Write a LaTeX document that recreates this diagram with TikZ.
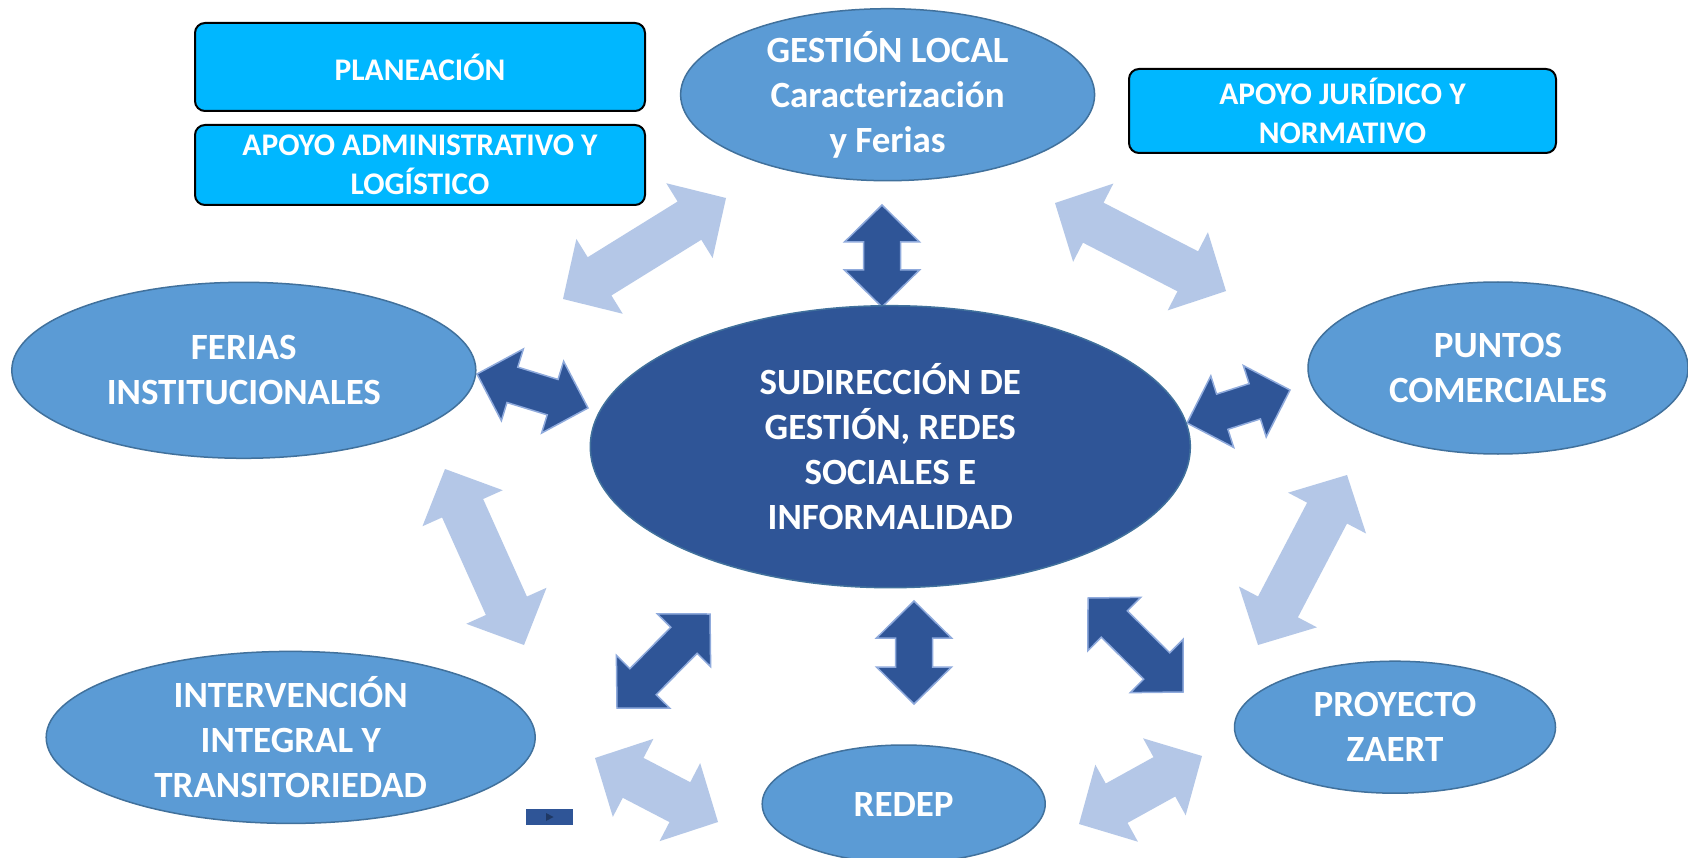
\documentclass[tikz,border=0pt]{standalone}
\usepackage{fontspec}
\setmainfont{Carlito}
\usetikzlibrary{shapes.geometric,calc}
\definecolor{boxcyan}{HTML}{00B7FF}
\definecolor{ellblue}{HTML}{5B9BD5}
\definecolor{ellborder}{HTML}{41719C}
\definecolor{darkblue}{HTML}{2F5597}
\definecolor{lightarr}{HTML}{B4C7E7}
\definecolor{darkarrborder}{HTML}{8FAADC}
\definecolor{navy}{HTML}{1F3864}
% double arrow polygon: #1 tail tip, #2 head tip, #3 style, #4 head length, #5 head half width, #6 shaft half width
\newcommand\dblarrow[6]{%
\path[#3] (#1)
 -- ($(#1)!#4!(#2)!#5!90:(#2)$) -- ($(#1)!#4!(#2)!#6!90:(#2)$)
 -- ($(#2)!#4!(#1)!#6!-90:(#1)$) -- ($(#2)!#4!(#1)!#5!-90:(#1)$)
 -- (#2)
 -- ($(#2)!#4!(#1)!#5!90:(#1)$) -- ($(#2)!#4!(#1)!#6!90:(#1)$)
 -- ($(#1)!#4!(#2)!#6!-90:(#2)$) -- ($(#1)!#4!(#2)!#5!-90:(#2)$)
 -- cycle;}
\tikzset{
  ell/.style={ellipse, draw=ellborder, line width=1.5pt, fill=ellblue, inner sep=0pt},
  centralell/.style={ellipse, draw=ellborder, line width=1.5pt, fill=darkblue, inner sep=0pt},
  elltext/.style={text=white, align=center, font=\fontsize{37}{45}\selectfont\bfseries, inner sep=0pt},
  box/.style={draw=black, line width=2pt, rounded corners=10pt, fill=boxcyan, text=white, align=center,
    font=\fontsize{31.5}{38.5}\selectfont\bfseries, inner sep=0pt},
  lightarrow/.style={fill=lightarr},
  darkarrow/.style={fill=darkblue, draw=darkarrborder, line width=1.5pt, line join=miter},
}
\begin{document}
\begin{tikzpicture}[x=1pt, y=-1pt]
\useasboundingbox[fill=white] (0,0) rectangle (1688,858);
% arrow end points
\coordinate (l1a) at (563,299);  \coordinate (l1b) at (726,198);
\coordinate (l2a) at (1055,203); \coordinate (l2b) at (1226,291);
\coordinate (l3a) at (1347,475); \coordinate (l3b) at (1258,645);
\coordinate (l4a) at (445,469);  \coordinate (l4b) at (524,645);
\coordinate (l5a) at (595,758);  \coordinate (l5b) at (718,822);
\coordinate (l6a) at (1079,824); \coordinate (l6b) at (1202,756);
\coordinate (d1a) at (882,205);  \coordinate (d1b) at (882,307);
\coordinate (d2a) at (477,374);  \coordinate (d2b) at (588,408);
\coordinate (d3a) at (1187,423); \coordinate (d3b) at (1290,390);
\coordinate (d4a) at (617,708);  \coordinate (d4b) at (710,614);
\coordinate (d5a) at (1088,598); \coordinate (d5b) at (1183,692);
\coordinate (d6a) at (914,601);  \coordinate (d6b) at (914,704);
% light arrows
\dblarrow{l1a}{l1b}{lightarrow}{43pt}{44pt}{22.5pt}
\dblarrow{l2a}{l2b}{lightarrow}{43pt}{44pt}{22.5pt}
\dblarrow{l3a}{l3b}{lightarrow}{43pt}{44pt}{22.5pt}
\dblarrow{l4a}{l4b}{lightarrow}{43pt}{44pt}{22.5pt}
\dblarrow{l5a}{l5b}{lightarrow}{43pt}{44pt}{22.5pt}
\dblarrow{l6a}{l6b}{lightarrow}{43pt}{44pt}{22.5pt}
% dark arrows
\dblarrow{d1a}{d1b}{darkarrow}{37pt}{37.5pt}{18.5pt}
\dblarrow{d2a}{d2b}{darkarrow}{37pt}{37.5pt}{18.5pt}
\dblarrow{d3a}{d3b}{darkarrow}{37pt}{37.5pt}{18.5pt}
\dblarrow{d4a}{d4b}{darkarrow}{37pt}{37.5pt}{18.5pt}
\dblarrow{d5a}{d5b}{darkarrow}{37pt}{37.5pt}{18.5pt}
\dblarrow{d6a}{d6b}{darkarrow}{37pt}{37.5pt}{18.5pt}
% boxes
\node[box, minimum width=450pt, minimum height=88pt] (plan) at (420,67) {PLANEACIÓN};
\node[box, minimum width=450pt, minimum height=80pt] (admin) at (420,165) {APOYO ADMINISTRATIVO Y\\LOGÍSTICO};
\node[box, minimum width=427pt, minimum height=84pt] (jur) at (1342.5,111) {APOYO JURÍDICO Y\\NORMATIVO};
% ellipses
\node[ell, minimum width=414pt, minimum height=172pt] (gest) at (887.6,94.7) {};
\node[elltext] (gestt) at (gest.center) {GESTIÓN LOCAL\\Caracterización\\y Ferias};
\node[centralell, minimum width=600pt, minimum height=282pt] (cent) at (890.3,446.7) {};
\node[elltext] (centt) at (cent.center) {SUDIRECCIÓN DE\\GESTIÓN, REDES\\SOCIALES E\\INFORMALIDAD};
\node[ell, minimum width=464pt, minimum height=176pt] (fer) at (243.8,370.3) {};
\node[elltext] (fert) at (fer.center) {FERIAS\\INSTITUCIONALES};
\node[ell, minimum width=380pt, minimum height=172pt] (pun) at (1498,368) {};
\node[elltext] (punt) at (pun.center) {PUNTOS\\COMERCIALES};
\node[ell, minimum width=489pt, minimum height=172pt] (int) at (290.7,737.4) {};
\node[elltext] (intt) at (int.center) {INTERVENCIÓN\\INTEGRAL Y\\TRANSITORIEDAD};
\node[ell, minimum width=321pt, minimum height=132pt] (zae) at (1395,727.2) {};
\node[elltext] (zaet) at (zae.center) {PROYECTO\\ZAERT};
\node[ell, minimum width=283pt, minimum height=118pt] (red) at (903.7,804) {};
\node[elltext] (redt) at (red.center) {REDEP};
% small play button
\node[fill=darkblue, minimum width=47pt, minimum height=16pt, inner sep=0pt] (btn) at (549.5,817) {};
\fill[navy] ($(btn.center)+(-3.5,-4)$) -- ($(btn.center)+(4,0)$) -- ($(btn.center)+(-3.5,4)$) -- cycle;
\end{tikzpicture}
\end{document}
